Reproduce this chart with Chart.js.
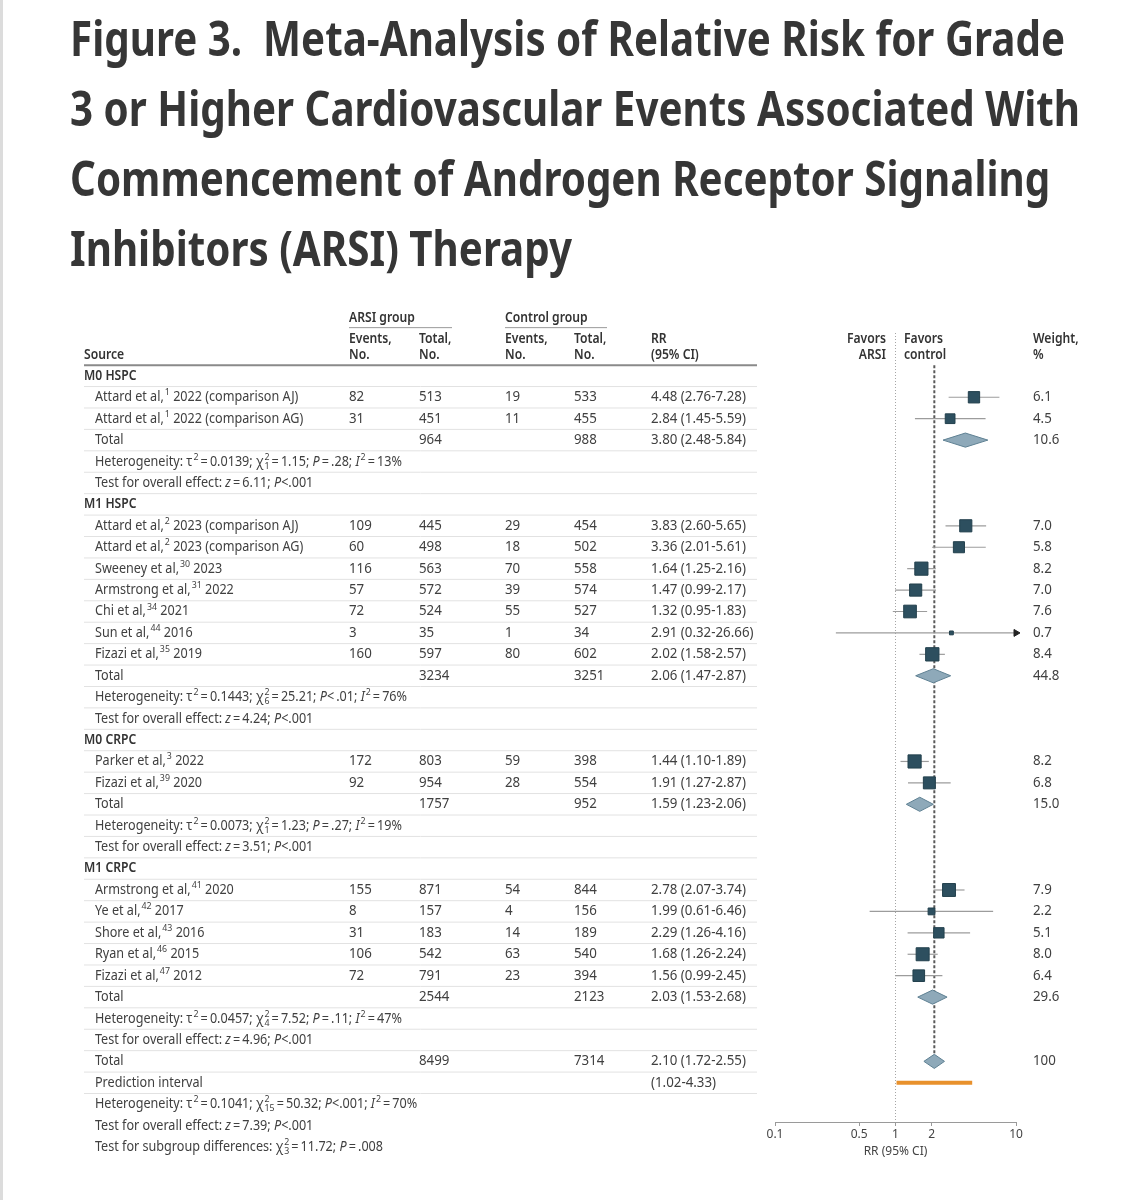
<!DOCTYPE html>
<html>
<head>
<meta charset="utf-8">
<script src="https://cdn.jsdelivr.net/npm/chart.js@4.4.1/dist/chart.umd.min.js"></script>
<style>
  body { margin: 0; background: #fff; }
  #page { position: relative; width: 1128px; height: 1200px; overflow: hidden; }
  #edge { position: absolute; left: 0; top: 0; width: 3px; height: 1200px; background: #dcdcdc; }
  #title { position: absolute; left: 70px; top: 3px; font: 700 48px "Noto Sans", sans-serif; line-height: 70px;
           color: #363636; white-space: nowrap; transform-origin: 0 0; }
  #title div { width: max-content; }
  canvas { position: absolute; left: 0; top: 0; }
</style>
</head>
<body>
<div id="page">
  <div id="edge"></div>
  <canvas id="forest" width="1128" height="1200"></canvas>
  <div id="title">
    <div>Figure 3.&nbsp; Meta-Analysis of Relative Risk for Grade</div>
    <div>3 or Higher Cardiovascular Events Associated With</div>
    <div>Commencement of Androgen Receptor Signaling</div>
    <div>Inhibitors (ARSI) Therapy</div>
  </div>
</div>
<script>
// one entry per table row; ^{} = superscript, _{} = subscript, *..* = italic
const rowLabels = [
  'M0 HSPC',
  'Attard et al,^{1} 2022 (comparison AJ)',
  'Attard et al,^{1} 2022 (comparison AG)',
  'Total',
  'Heterogeneity: τ^{2}\u2009=\u20090.0139; χ^{2}_{1}\u2009=\u20091.15; *P*\u2009=\u2009.28; *I*^{2}\u2009=\u200913%',
  'Test for overall effect: *z*\u2009=\u20096.11; *P*<.001',
  'M1 HSPC',
  'Attard et al,^{2} 2023 (comparison AJ)',
  'Attard et al,^{2} 2023 (comparison AG)',
  'Sweeney et al,^{30} 2023',
  'Armstrong et al,^{31} 2022',
  'Chi et al,^{34} 2021',
  'Sun et al,^{44} 2016',
  'Fizazi et al,^{35} 2019',
  'Total',
  'Heterogeneity: τ^{2}\u2009=\u20090.1443; χ^{2}_{6}\u2009=\u200925.21; *P*<\u2009.01; *I*^{2}\u2009=\u200976%',
  'Test for overall effect: *z*\u2009=\u20094.24; *P*<.001',
  'M0 CRPC',
  'Parker et al,^{3} 2022',
  'Fizazi et al,^{39} 2020',
  'Total',
  'Heterogeneity: τ^{2}\u2009=\u20090.0073; χ^{2}_{1}\u2009=\u20091.23; *P*\u2009=\u2009.27; *I*^{2}\u2009=\u200919%',
  'Test for overall effect: *z*\u2009=\u20093.51; *P*<.001',
  'M1 CRPC',
  'Armstrong et al,^{41} 2020',
  'Ye et al,^{42} 2017',
  'Shore et al,^{43} 2016',
  'Ryan et al,^{46} 2015',
  'Fizazi et al,^{47} 2012',
  'Total',
  'Heterogeneity: τ^{2}\u2009=\u20090.0457; χ^{2}_{4}\u2009=\u20097.52; *P*\u2009=\u2009.11; *I*^{2}\u2009=\u200947%',
  'Test for overall effect: *z*\u2009=\u20094.96; *P*<.001',
  'Total',
  'Prediction interval',
  'Heterogeneity: τ^{2}\u2009=\u20090.1041; χ^{2}_{15}\u2009=\u200950.32; *P*<.001; *I*^{2}\u2009=\u200970%',
  'Test for overall effect: *z*\u2009=\u20097.39; *P*<.001',
  'Test for subgroup differences: χ^{2}_{3}\u2009=\u200911.72; *P*\u2009=\u2009.008'
]
const rowTypes = [
  'group', 'study', 'study', 'total', 'note', 'note',
  'group', 'study', 'study', 'study', 'study', 'study', 'study', 'study', 'total', 'note', 'note',
  'group', 'study', 'study', 'total', 'note', 'note',
  'group', 'study', 'study', 'study', 'study', 'study', 'total', 'note', 'note',
  'overall', 'pi', 'note', 'note', 'note'
]
const arsiEvents = [null, 82, 31, null, null, null, null, 109, 60, 116, 57, 72, 3, 160, null, null, null,
  null, 172, 92, null, null, null, null, 155, 8, 31, 106, 72, null, null, null, null, null, null, null, null]
const arsiTotal = [null, 513, 451, 964, null, null, null, 445, 498, 563, 572, 524, 35, 597, 3234, null, null,
  null, 803, 954, 1757, null, null, null, 871, 157, 183, 542, 791, 2544, null, null, 8499, null, null, null, null]
const ctrlEvents = [null, 19, 11, null, null, null, null, 29, 18, 70, 39, 55, 1, 80, null, null, null,
  null, 59, 28, null, null, null, null, 54, 4, 14, 63, 23, null, null, null, null, null, null, null, null]
const ctrlTotal = [null, 533, 455, 988, null, null, null, 454, 502, 558, 574, 527, 34, 602, 3251, null, null,
  null, 398, 554, 952, null, null, null, 844, 156, 189, 540, 394, 2123, null, null, 7314, null, null, null, null]
const rr = [null, 4.48, 2.84, 3.80, null, null, null, 3.83, 3.36, 1.64, 1.47, 1.32, 2.91, 2.02, 2.06, null, null,
  null, 1.44, 1.91, 1.59, null, null, null, 2.78, 1.99, 2.29, 1.68, 1.56, 2.03, null, null, 2.10, null, null, null, null]
const ciLow = [null, 2.76, 1.45, 2.48, null, null, null, 2.60, 2.01, 1.25, 0.99, 0.95, 0.32, 1.58, 1.47, null, null,
  null, 1.10, 1.27, 1.23, null, null, null, 2.07, 0.61, 1.26, 1.26, 0.99, 1.53, null, null, 1.72, 1.02, null, null, null]
const ciHigh = [null, 7.28, 5.59, 5.84, null, null, null, 5.65, 5.61, 2.16, 2.17, 1.83, 26.66, 2.57, 2.87, null, null,
  null, 1.89, 2.87, 2.06, null, null, null, 3.74, 6.46, 4.16, 2.24, 2.45, 2.68, null, null, 2.55, 4.33, null, null, null]
const weights = [null, 6.1, 4.5, 10.6, null, null, null, 7.0, 5.8, 8.2, 7.0, 7.6, 0.7, 8.4, 44.8, null, null,
  null, 8.2, 6.8, 15.0, null, null, null, 7.9, 2.2, 5.1, 8.0, 6.4, 29.6, null, null, 100, null, null, null, null]
const xTicks = [0.1, 0.5, 1, 2, 10]

const X_MIN = 0.1, X_MAX = 10
const Y_TOP = -2, Y_BOTTOM = 34.83
const TEXT_SIZE = 14
const TEXT_SX = 0.9
const NUM_SX = 0.95
const FONT = '"Noto Sans", sans-serif'
const INK = '#404040'

const idx = t => rowTypes.map((k, i) => k === t ? i : -1).filter(i => i >= 0)
const studyRows = idx('study')
const diamondRows = rowTypes.map((k, i) => (k === 'total' || k === 'overall') ? i : -1).filter(i => i >= 0)
const piRow = rowTypes.indexOf('pi')
const overallRow = rowTypes.indexOf('overall')

// title: squeeze to the condensed look of the original
const title = document.getElementById('title')
const widest = Math.max(...[...title.children].map(d => d.getBoundingClientRect().width))
title.style.transform = `scaleX(${1010 / widest})`

function parseRich(str) {
  const segs = []
  let buf = '', italic = false, i = 0
  const flush = () => { if (buf) segs.push({ t: buf, mode: 'n', italic }); buf = '' }
  while (i < str.length) {
    const c = str[i]
    if (c === '*') { flush(); italic = !italic; i++; continue }
    if ((c === '^' || c === '_') && str[i + 1] === '{') {
      flush()
      const end = str.indexOf('}', i)
      segs.push({ t: str.slice(i + 2, end), mode: c === '^' ? 'sup' : 'sub', italic: false })
      i = end + 1
      continue
    }
    buf += c
    i++
  }
  flush()
  return segs
}

function drawRich(ctx, str, x, y, opts = {}) {
  const size = opts.size || TEXT_SIZE
  const weight = opts.weight || 400
  const sx = opts.sx || TEXT_SX
  const parts = []
  let cx = 0, supX = 0, prev = null
  parseRich(str).forEach(s => {
    const fs = s.mode === 'n' ? size : size * 0.7
    const font = `${s.italic ? 'italic ' : ''}${weight} ${fs}px ${FONT}`
    ctx.font = font
    const w = ctx.measureText(s.t).width * sx
    let dx = cx, dy = 0
    if (s.mode === 'sup') { dx = cx + 1; dy = -size * 0.34; supX = dx; cx += w + 1 }
    else if (s.mode === 'sub') {
      dy = size * 0.3
      if (prev === 'sup') { dx = supX; cx = Math.max(cx, supX + w) } else cx += w
    } else cx += w
    parts.push({ t: s.t, font, dx, dy })
    prev = s.mode
  })
  const x0 = opts.align === 'right' ? x - cx : x
  ctx.fillStyle = opts.color || INK
  ctx.textBaseline = 'middle'
  ctx.textAlign = 'left'
  parts.forEach(p => {
    ctx.save()
    ctx.font = p.font
    ctx.translate(x0 + p.dx, y + p.dy)
    ctx.scale(sx, 1)
    ctx.fillText(p.t, 0, 0)
    ctx.restore()
  })
}

function hline(ctx, x1, x2, y, color, width) {
  ctx.save()
  ctx.strokeStyle = color
  ctx.lineWidth = width
  ctx.beginPath()
  ctx.moveTo(x1, y)
  ctx.lineTo(x2, y)
  ctx.stroke()
  ctx.restore()
}

const fmt2 = v => v.toFixed(2)

const tablePlugin = {
  id: 'forestTable',
  afterDraw(chart) {
    const ctx = chart.ctx
    const ys = chart.scales.y
    const y = v => ys.getPixelForValue(v)
    const rowH = y(1) - y(0)
    const col = { src: 84, indent: 95, ae: 349, at: 419, ce: 505, ct: 574, rr: 651, w: 1033 }
    const head = { weight: 600, color: '#333', size: 13.5 }

    // header
    drawRich(ctx, 'ARSI group', col.ae, y(-2.71), head)
    drawRich(ctx, 'Control group', col.ce, y(-2.71), head)
    hline(ctx, col.ae, 452, y(-2.25), '#999', 1)
    hline(ctx, col.ce, 607, y(-2.25), '#999', 1)
    ;[[col.ae, 'Events,', 'No.'], [col.at, 'Total,', 'No.'], [col.ce, 'Events,', 'No.'], [col.ct, 'Total,', 'No.'],
      [col.rr, 'RR', '(95% CI)'], [col.w, 'Weight,', '%']].forEach(([x, a, b]) => {
      drawRich(ctx, a, x, y(-1.73), head)
      drawRich(ctx, b, x, y(-0.98), head)
    })
    drawRich(ctx, 'Source', col.src, y(-0.98), head)
    drawRich(ctx, 'Favors', 886, y(-1.73), { ...head, align: 'right' })
    drawRich(ctx, 'ARSI', 886, y(-0.98), { ...head, align: 'right' })
    drawRich(ctx, 'Favors', 904, y(-1.73), head)
    drawRich(ctx, 'control', 904, y(-0.98), head)
    hline(ctx, col.src, 757, y(-0.5), '#8a8a8a', 2)

    rowLabels.forEach((label, i) => {
      const py = y(i)
      const type = rowTypes[i]
      if (type === 'group') drawRich(ctx, label, col.src, py, head)
      else drawRich(ctx, label, col.indent, py)
      const num = { sx: NUM_SX }
      if (arsiEvents[i] != null) drawRich(ctx, String(arsiEvents[i]), col.ae, py, num)
      if (arsiTotal[i] != null) drawRich(ctx, String(arsiTotal[i]), col.at, py, num)
      if (ctrlEvents[i] != null) drawRich(ctx, String(ctrlEvents[i]), col.ce, py, num)
      if (ctrlTotal[i] != null) drawRich(ctx, String(ctrlTotal[i]), col.ct, py, num)
      if (ciLow[i] != null) {
        const ci = `(${fmt2(ciLow[i])}-${fmt2(ciHigh[i])})`
        drawRich(ctx, rr[i] != null ? `${fmt2(rr[i])} ${ci}` : ci, col.rr, py, num)
      }
      if (weights[i] != null) {
        drawRich(ctx, weights[i] >= 100 ? String(weights[i]) : weights[i].toFixed(1), col.w, py, num)
      }
      if (i <= piRow) hline(ctx, col.src, 757, py + rowH / 2, '#e2e2e2', 1)
    })
  }
}

const seg = (x1, x2, yv) => [{ x: x1, y: yv }, { x: x2, y: yv }]

const datasets = []
datasets.push({
  data: [{ x: 1, y: Y_TOP }, { x: 1, y: Y_BOTTOM }],
  showLine: true, borderColor: '#a5a5a5', borderWidth: 1, borderDash: [1, 2], pointRadius: 0, order: 5
})
datasets.push({
  data: [{ x: rr[overallRow], y: -0.5 }, { x: rr[overallRow], y: overallRow }],
  showLine: true, borderColor: '#5a5a5a', borderWidth: 2, borderDash: [3, 2], pointRadius: 0, order: 4
})
studyRows.forEach(r => datasets.push({
  data: seg(ciLow[r], ciHigh[r], r),
  showLine: true, borderColor: '#9c9c9c', borderWidth: 1.2, pointRadius: 0, order: 3
}))
datasets.push({
  data: seg(ciLow[piRow], ciHigh[piRow], piRow),
  showLine: true, borderColor: '#e8912c', borderWidth: 4, borderCapStyle: 'butt', pointRadius: 0, order: 3
})
diamondRows.forEach(r => datasets.push({
  data: [{ x: ciLow[r], y: r }, { x: rr[r], y: r - 0.33 }, { x: ciHigh[r], y: r }, { x: rr[r], y: r + 0.33 }, { x: ciLow[r], y: r }],
  showLine: true, fill: 'shape', backgroundColor: '#8ea9b9', borderColor: '#5f8193', borderWidth: 1,
  pointRadius: 0, tension: 0, order: 2
}))
datasets.push({
  data: studyRows.map(r => ({ x: rr[r], y: r })),
  pointStyle: 'rect',
  pointRadius: studyRows.map(r => 3.25 * Math.sqrt(weights[r])),
  backgroundColor: '#2d4f5f', borderColor: '#23404d', borderWidth: 1, order: 1
})
const clipped = studyRows.filter(r => ciHigh[r] > X_MAX)
datasets.push({
  data: clipped.map(r => ({ x: X_MAX, y: r })),
  pointStyle: 'triangle', rotation: 90, pointRadius: 4,
  backgroundColor: '#222', borderColor: '#222', borderWidth: 1, clip: false, order: 0
})

new Chart(document.getElementById('forest'), {
  type: 'scatter',
  data: { datasets },
  options: {
    responsive: false,
    devicePixelRatio: 1,
    animation: false,
    events: [],
    layout: { padding: { left: 775, right: 112, top: 333, bottom: 33 } },
    plugins: { legend: { display: false }, tooltip: { enabled: false } },
    scales: {
      x: {
        type: 'logarithmic',
        min: X_MIN,
        max: X_MAX,
        afterBuildTicks: s => { s.ticks = xTicks.map(v => ({ value: v })) },
        afterFit: s => { s.height = 45 },
        ticks: { callback: v => String(v), autoSkip: false, maxRotation: 0, padding: 1,
                 color: '#444', font: { family: FONT, size: 12 } },
        grid: { display: true, drawOnChartArea: false, tickLength: 4, color: '#9a9a9a' },
        border: { color: '#9a9a9a', width: 1 },
        title: { display: true, text: 'RR (95% CI)', color: '#444', font: { family: FONT, size: 12 },
                 padding: { top: 2, bottom: 8 } }
      },
      y: { type: 'linear', reverse: true, min: Y_TOP, max: Y_BOTTOM, display: false }
    }
  },
  plugins: [tablePlugin]
})
</script>
</body>
</html>
